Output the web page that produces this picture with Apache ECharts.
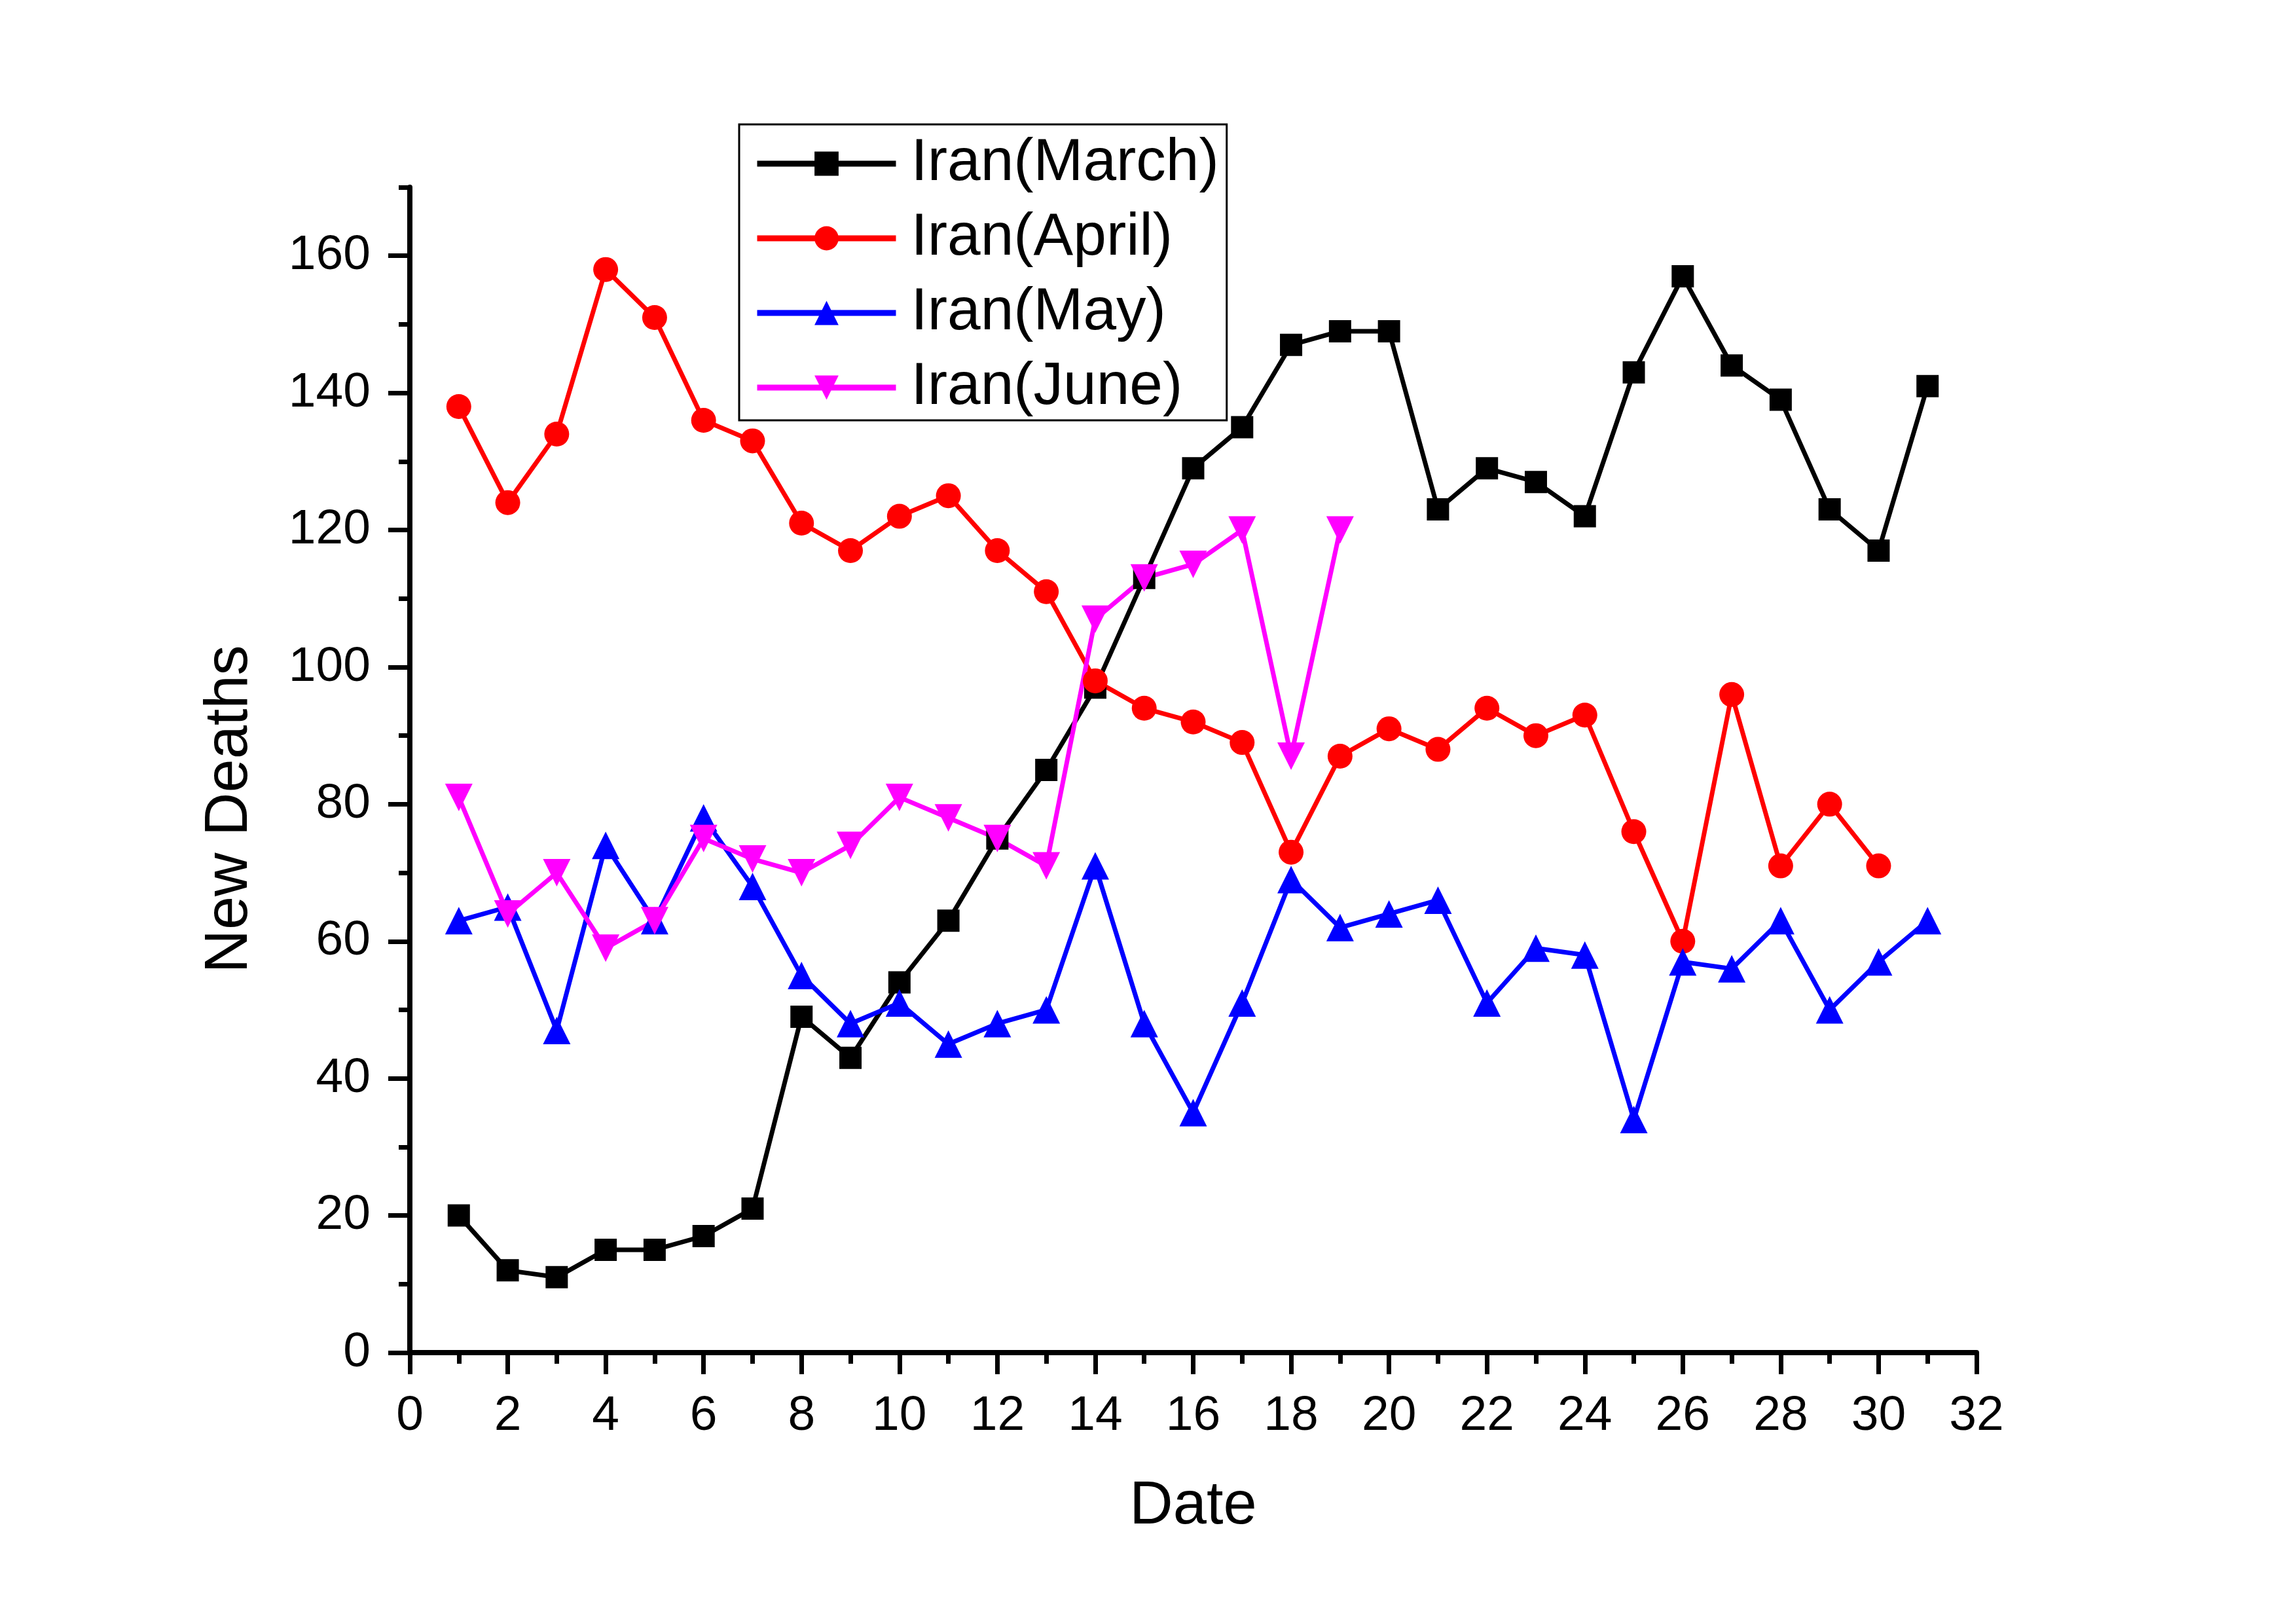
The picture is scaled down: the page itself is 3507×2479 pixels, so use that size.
<!DOCTYPE html>
<html>
<head>
<meta charset="utf-8">
<script src="https://cdn.jsdelivr.net/npm/echarts@6/dist/echarts.min.js"></script>
<style>
html,body{margin:0;padding:0;background:#fff;}
#chart{width:3507px;height:2479px;}
</style>
</head>
<body>
<div id="chart"></div>
<script>
const days = [1,2,3,4,5,6,7,8,9,10,11,12,13,14,15,16,17,18,19,20,21,22,23,24,25,26,27,28,29,30,31];
const march = [20,12,11,15,15,17,21,49,43,54,63,75,85,97,113,129,135,147,149,149,123,129,127,122,143,157,144,139,123,117,141];
const april = [138,124,134,158,151,136,133,121,117,122,125,117,111,98,94,92,89,73,87,91,88,94,90,93,76,60,96,71,80,71];
const may = [63,65,47,74,63,78,68,55,48,51,45,48,50,71,48,35,51,69,62,64,66,51,59,58,34,57,56,63,50,57,63];
const june = [81,64,70,59,63,75,72,70,74,81,78,75,71,107,113,115,120,87,120];
const seriesNames = ['Iran(March)','Iran(April)','Iran(May)','Iran(June)'];
const yMajorTicks = [0,20,40,60,80,100,120,140,160];
const yMinorTicks = [10,30,50,70,90,110,130,150,170];
const xTicks = [0,2,4,6,8,10,12,14,16,18,20,22,24,26,28,30,32];

function pairs(vals){ return vals.map((v,i)=>[days[i], v]); }

const FONT = 'Liberation Sans, Arial, sans-serif';
const chart = echarts.init(document.getElementById('chart'), null, {renderer:'canvas'});
const axisLineStyle = {color:'#000', width:8};
const tickStyle = {color:'#000', width:7};

function mk(name, data, color, symbol, size, rotate){
  return {
    name, type:'line', data: pairs(data), xAxisIndex:0, yAxisIndex:0,
    symbol, symbolSize:size, symbolRotate: rotate||0,
    lineStyle:{color, width:7}, itemStyle:{color},
    emphasis:{disabled:true}, z: 3
  };
}

chart.setOption({
  animation:false,
  backgroundColor:'#fff',
  textStyle:{fontFamily:FONT},
  grid:{left:626, right:488, top:286, bottom:413, containLabel:false},
  legend:{
    orient:'vertical', left:1129, top:190,
    data: seriesNames,
    itemWidth:212, itemHeight:46, itemGap:22,
    padding:[14,12,4,23],
    borderColor:'#000', borderWidth:3,
    lineStyle:{width:9},
    textStyle:{fontSize:91, lineHeight:92, color:'#000', fontFamily:FONT, padding:[0,0,0,18]}
  },
  xAxis:[{
    type:'value', min:0, max:32, interval:2,
    name:'Date', nameLocation:'middle', nameGap:190,
    nameTextStyle:{fontSize:92, color:'#000', fontFamily:FONT},
    axisLine:{show:true, onZero:false, lineStyle:axisLineStyle},
    axisTick:{show:true, inside:false, length:33, lineStyle:tickStyle},
    minorTick:{show:true, splitNumber:2, length:17, lineStyle:tickStyle},
    axisLabel:{fontSize:75, color:'#000', margin:60, fontFamily:FONT, customValues:xTicks},
    splitLine:{show:false}
  }],
  yAxis:[{
    type:'value', min:0, max:170, interval:20,
    name:'New Deaths', nameLocation:'middle', nameGap:228, nameRotate:90,
    nameTextStyle:{fontSize:92, color:'#000', fontFamily:FONT, padding:[0,120,0,0]},
    axisLine:{show:true, onZero:false, lineStyle:axisLineStyle},
    axisTick:{show:true, inside:false, length:33, lineStyle:tickStyle, customValues:yMajorTicks},
    axisLabel:{fontSize:75, color:'#000', margin:60, fontFamily:FONT, customValues:yMajorTicks},
    splitLine:{show:false}
  },{
    type:'value', min:0, max:170, interval:10, position:'left', offset:0,
    axisLine:{show:false},
    axisTick:{show:true, inside:false, length:17, lineStyle:tickStyle, customValues:yMinorTicks},
    axisLabel:{show:false},
    splitLine:{show:false}
  }],
  series:[
    mk(seriesNames[0], march, '#000000', 'rect', 34),
    mk(seriesNames[1], april, '#FF0000', 'circle', 38),
    mk(seriesNames[2], may, '#0000FF', 'triangle', 42),
    mk(seriesNames[3], june, '#FF00FF', 'triangle', 42, 180)
  ]
});
</script>
</body>
</html>
